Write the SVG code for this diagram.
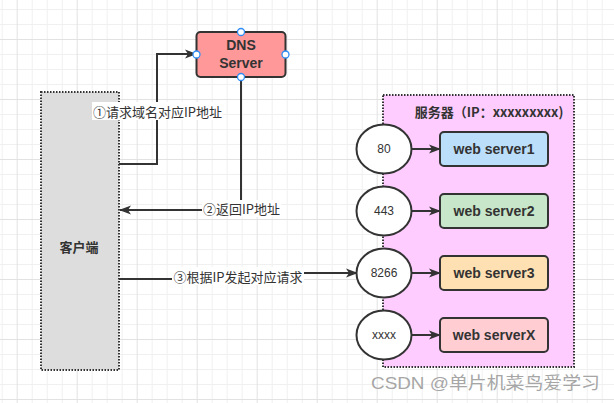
<svg xmlns="http://www.w3.org/2000/svg" width="614" height="403" viewBox="0 0 614 403">
<defs>
<pattern id="grid" patternUnits="userSpaceOnUse" x="16.7" y="39" width="60" height="60">
<rect width="60" height="60" fill="#ffffff"/>
<path d="M15.5,0V60M30.5,0V60M45.5,0V60M0,15.5H60M0,30.5H60M0,45.5H60" stroke="#f0f0f0" stroke-width="1" fill="none"/>
<path d="M0.5,0V60M0,0.5H60" stroke="#e2e2e2" stroke-width="1" fill="none"/>
</pattern>
<marker id="arrow" markerUnits="userSpaceOnUse" viewBox="0 0 12 10" refX="11" refY="5" markerWidth="12" markerHeight="10" orient="auto">
<path d="M0,0.5 L12,5 L0,9.5 L3,5 Z" fill="#333333"/>
</marker>
</defs>
<style>
.line{fill:none;stroke:#333333;stroke-width:2}
.dotted{stroke:#333333;stroke-width:2;stroke-dasharray:1.5 1.5}
.box{stroke:#333333;stroke-width:2}
.cjk{font-family:"Noto Sans CJK SC","Liberation Sans",sans-serif;fill:#333333}
.lbl{font-family:"Noto Sans CJK SC","Liberation Sans",sans-serif;font-size:13px;fill:#333333;text-anchor:middle;dominant-baseline:central}
.bold{font-family:"Liberation Sans","Noto Sans CJK SC",sans-serif;font-weight:bold;font-size:14px;fill:#333333;text-anchor:middle;dominant-baseline:central}
.port{font-family:"Liberation Sans",sans-serif;font-size:12px;fill:#333333;text-anchor:middle;dominant-baseline:central}
.pt{fill:#ffffff;stroke:#2f8cf5;stroke-width:1.3}
</style>
<rect width="614" height="403" fill="url(#grid)"/>

<g id="client">
<rect x="41" y="92" width="78" height="278" fill="#dddddd" class="dotted"/>
<text x="79" y="246" class="cjk" font-size="13" text-anchor="middle" dominant-baseline="central" font-weight="bold">客户端</text>
</g>

<g id="server-group">
<rect x="383" y="95" width="191" height="272" fill="#ffccff" class="dotted"/>
<text x="489" y="111" class="cjk" font-size="13" text-anchor="middle" dominant-baseline="central" font-weight="bold">服务器（IP：xxxxxxxxx)</text>
</g>

<g id="connectors">
<path class="line" d="M119,164 H157 V54 H196" marker-end="url(#arrow)"/>
<path class="line" d="M241,77 V210 H120" marker-end="url(#arrow)"/>
<path class="line" d="M119,279 H238 V273 H357" marker-end="url(#arrow)"/>
<path class="line" d="M411.5,149 H440" marker-end="url(#arrow)"/>
<path class="line" d="M411.5,211 H440" marker-end="url(#arrow)"/>
<path class="line" d="M411.5,273 H440" marker-end="url(#arrow)"/>
<path class="line" d="M411.5,335 H440" marker-end="url(#arrow)"/>
<rect x="92" y="102" width="131" height="18" fill="#ffffff"/>
<text x="157.5" y="111" class="lbl">①请求域名对应IP地址</text>
<rect x="202" y="200" width="79" height="17" fill="#ffffff"/>
<text x="241.5" y="208.5" class="lbl">②返回IP地址</text>
<rect x="172" y="267" width="132" height="18" fill="#ffffff"/>
<text x="238" y="276" class="lbl">③根据IP发起对应请求</text>
</g>

<g id="dns">
<rect x="196.5" y="32" width="89" height="45" rx="4" fill="#ff9999" class="box"/>
<text x="241" y="45" class="bold">DNS</text>
<text x="241" y="63" class="bold">Server</text>
<circle cx="241" cy="32" r="3.5" class="pt"/>
<circle cx="196.5" cy="54.5" r="3.5" class="pt"/>
<circle cx="285.5" cy="54.5" r="3.5" class="pt"/>
<circle cx="241" cy="77" r="3.5" class="pt"/>
</g>

<g id="port80">
<ellipse cx="384" cy="149" rx="27.5" ry="24.5" fill="#ffffff" class="box"/>
<text x="384" y="149" class="port">80</text>
</g>
<g id="port443">
<ellipse cx="384" cy="211" rx="27.5" ry="24.5" fill="#ffffff" class="box"/>
<text x="384" y="211" class="port">443</text>
</g>
<g id="port8266">
<ellipse cx="384" cy="273" rx="27.5" ry="24.5" fill="#ffffff" class="box"/>
<text x="384" y="273" class="port">8266</text>
</g>
<g id="portxxxx">
<ellipse cx="384" cy="335" rx="27.5" ry="24.5" fill="#ffffff" class="box"/>
<text x="384" y="335" class="port">xxxx</text>
</g>

<g id="web1">
<rect x="440" y="132" width="108" height="34" rx="4" fill="#bbdefb" class="box"/>
<text x="494" y="149" class="bold">web server1</text>
</g>
<g id="web2">
<rect x="440" y="194" width="108" height="34" rx="4" fill="#c8e6c9" class="box"/>
<text x="494" y="211" class="bold">web server2</text>
</g>
<g id="web3">
<rect x="440" y="256" width="108" height="34" rx="4" fill="#ffe0b2" class="box"/>
<text x="494" y="273" class="bold">web server3</text>
</g>
<g id="webX">
<rect x="440" y="318" width="108" height="34" rx="4" fill="#ffcdd2" class="box"/>
<text x="494" y="335" class="bold">web serverX</text>
</g>

<text x="371" y="389" font-family="Liberation Sans,Noto Sans CJK SC,sans-serif" font-size="17" fill="#a6a6a6" textLength="229" lengthAdjust="spacingAndGlyphs">CSDN @单片机菜鸟爱学习</text>
</svg>
